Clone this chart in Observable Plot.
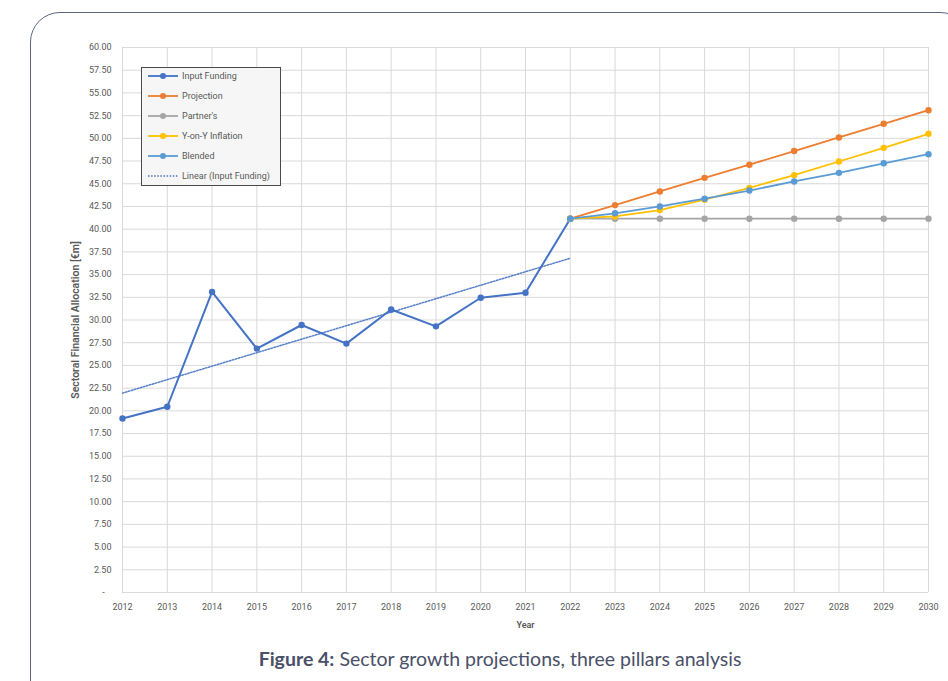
<!DOCTYPE html>
<html>
<head>
<meta charset="utf-8">
<script src="https://cdn.jsdelivr.net/npm/d3@7"></script>
<script src="https://cdn.jsdelivr.net/npm/@observablehq/plot@0.6"></script>
<style>
  html, body { margin: 0; padding: 0; background: #ffffff; }
  #page { position: relative; width: 948px; height: 681px; overflow: hidden; font-family: Roboto, "Noto Sans", sans-serif; }
  #frame { position: absolute; left: 30px; top: 12px; width: 940px; height: 700px; border: 1.5px solid #5d6680; border-radius: 30px; box-sizing: border-box; }
  #chart { position: absolute; left: 0; top: 0; }
  #legend { position: absolute; left: 141px; top: 67px; width: 140px; height: 119px; box-sizing: border-box;
            border: 1px solid #4a4a4a; background: #f6f6f6; padding-top: 0; }
  .row { height: 20px; display: flex; align-items: center; font-size: 9px; color: #595959; }
  .row:first-child { margin-top: -2px; }
  .row svg { margin-left: 6px; margin-right: 4px; }
  #caption { position: absolute; left: 0; width: 1000px; top: 647px; text-align: center; font-family: Lato, "Open Sans", sans-serif;
             font-size: 19.5px; color: #4a5068; }
  #caption b { font-weight: 700; }
</style>
</head>
<body>
<div id="page">
  <div id="frame"></div>
  <div id="chart"></div>
  <div id="legend"></div>
  <div id="caption"><b>Figure 4:</b> Sector growth projections, three pillars analysis</div>
</div>
<script>
// Tick values
const years = d3.range(2012, 2031);
const yTicks = d3.range(0, 60.01, 2.5);

// Historical input funding (€m)
const inputYears = [2012, 2013, 2014, 2015, 2016, 2017, 2018, 2019, 2020, 2021, 2022];
const inputFunding = [19.15, 20.45, 33.1, 26.85, 29.45, 27.4, 31.15, 29.3, 32.45, 33.0, 41.15];

// Projection horizon 2022–2030
const projYears = [2022, 2023, 2024, 2025, 2026, 2027, 2028, 2029, 2030];
const projection = [41.15, 42.65, 44.15, 45.65, 47.1, 48.6, 50.1, 51.6, 53.1];
const partners = [41.15, 41.15, 41.15, 41.15, 41.15, 41.15, 41.15, 41.15, 41.15];
const yoyInflation = [41.15, 41.4, 42.1, 43.25, 44.55, 45.95, 47.45, 48.95, 50.5];
const blended = [41.15, 41.75, 42.5, 43.35, 44.25, 45.25, 46.2, 47.25, 48.25];

// Linear trend of input funding (end points)
const trendYears = [2012, 2022];
const trendValues = [21.95, 36.8];

const seriesNames = ["Input Funding", "Projection", "Partner's", "Y-on-Y Inflation", "Blended", "Linear (Input Funding)"];
const seriesColors = ["#4472c4", "#ed7d31", "#a5a5a5", "#ffc000", "#5b9bd5", "#4472c4"];

const toRows = (xs, ys) => xs.map((x, i) => ({x, y: ys[i]}));
const inputRows = toRows(inputYears, inputFunding);
const projected = [
  {rows: toRows(projYears, projection), color: seriesColors[1]},
  {rows: toRows(projYears, partners), color: seriesColors[2]},
  {rows: toRows(projYears, yoyInflation), color: seriesColors[3]},
  {rows: toRows(projYears, blended), color: seriesColors[4]}
];
const trendRows = toRows(trendYears, trendValues);

const gridColor = "#d9d9d9";
const textColor = "#595959";

const chart = Plot.plot({
  width: 948,
  height: 640,
  marginLeft: 122,
  marginRight: 20,
  marginTop: 47,
  marginBottom: 48,
  style: {fontFamily: "Roboto, 'Noto Sans', sans-serif", fontSize: "9px", color: textColor, background: "transparent", overflow: "visible"},
  x: {type: "linear", domain: [2012, 2030], label: null},
  y: {domain: [0, 60], label: null},
  marks: [
    Plot.gridX(years, {stroke: gridColor, strokeOpacity: 1, strokeWidth: 1}),
    Plot.gridY(yTicks, {stroke: gridColor, strokeOpacity: 1, strokeWidth: 1}),
    Plot.axisX(years, {tickSize: 0, tickPadding: 11, tickFormat: d => String(d), fill: textColor}),
    Plot.axisY(yTicks, {tickSize: 0, tickPadding: 11, tickFormat: d => d === 0 ? "-   " : d.toFixed(2), fill: textColor}),
    Plot.text(["Sectoral Financial Allocation [€m]"], {frameAnchor: "left", textAnchor: "middle", rotate: -90, dx: -47, fontWeight: 600, fill: textColor, fontSize: 10.5}),
    Plot.text(["Year"], {frameAnchor: "bottom", textAnchor: "middle", dy: 35, fontWeight: 600, fill: textColor, fontSize: 9}),
    // trend line
    Plot.line(trendRows, {x: "x", y: "y", stroke: seriesColors[5], strokeWidth: 1.5, strokeDasharray: "1.5,1.6", strokeOpacity: 0.9}),
    // historical series
    Plot.line(inputRows, {x: "x", y: "y", stroke: seriesColors[0], strokeWidth: 2}),
    Plot.dot(inputRows, {x: "x", y: "y", fill: seriesColors[0], r: 3.2}),
    // projected series
    ...projected.flatMap(s => [
      Plot.line(s.rows, {x: "x", y: "y", stroke: s.color, strokeWidth: 1.8}),
      Plot.dot(s.rows, {x: "x", y: "y", fill: s.color, r: 3.2})
    ])
  ]
});
document.getElementById("chart").appendChild(chart);

// Legend box
const legend = d3.select("#legend");
seriesNames.forEach((name, i) => {
  const row = legend.append("div").attr("class", "row");
  const svg = row.append("svg").attr("width", 30).attr("height", 8);
  if (i === 5) {
    svg.append("line").attr("x1", 0).attr("x2", 30).attr("y1", 4).attr("y2", 4)
      .attr("stroke", seriesColors[i]).attr("stroke-width", 1.5).attr("stroke-dasharray", "1.5,1.6");
  } else {
    svg.append("line").attr("x1", 0).attr("x2", 30).attr("y1", 4).attr("y2", 4)
      .attr("stroke", seriesColors[i]).attr("stroke-width", 1.8);
    svg.append("circle").attr("cx", 15).attr("cy", 4).attr("r", 3).attr("fill", seriesColors[i]);
  }
  row.append("span").text(name);
});
</script>
</body>
</html>
